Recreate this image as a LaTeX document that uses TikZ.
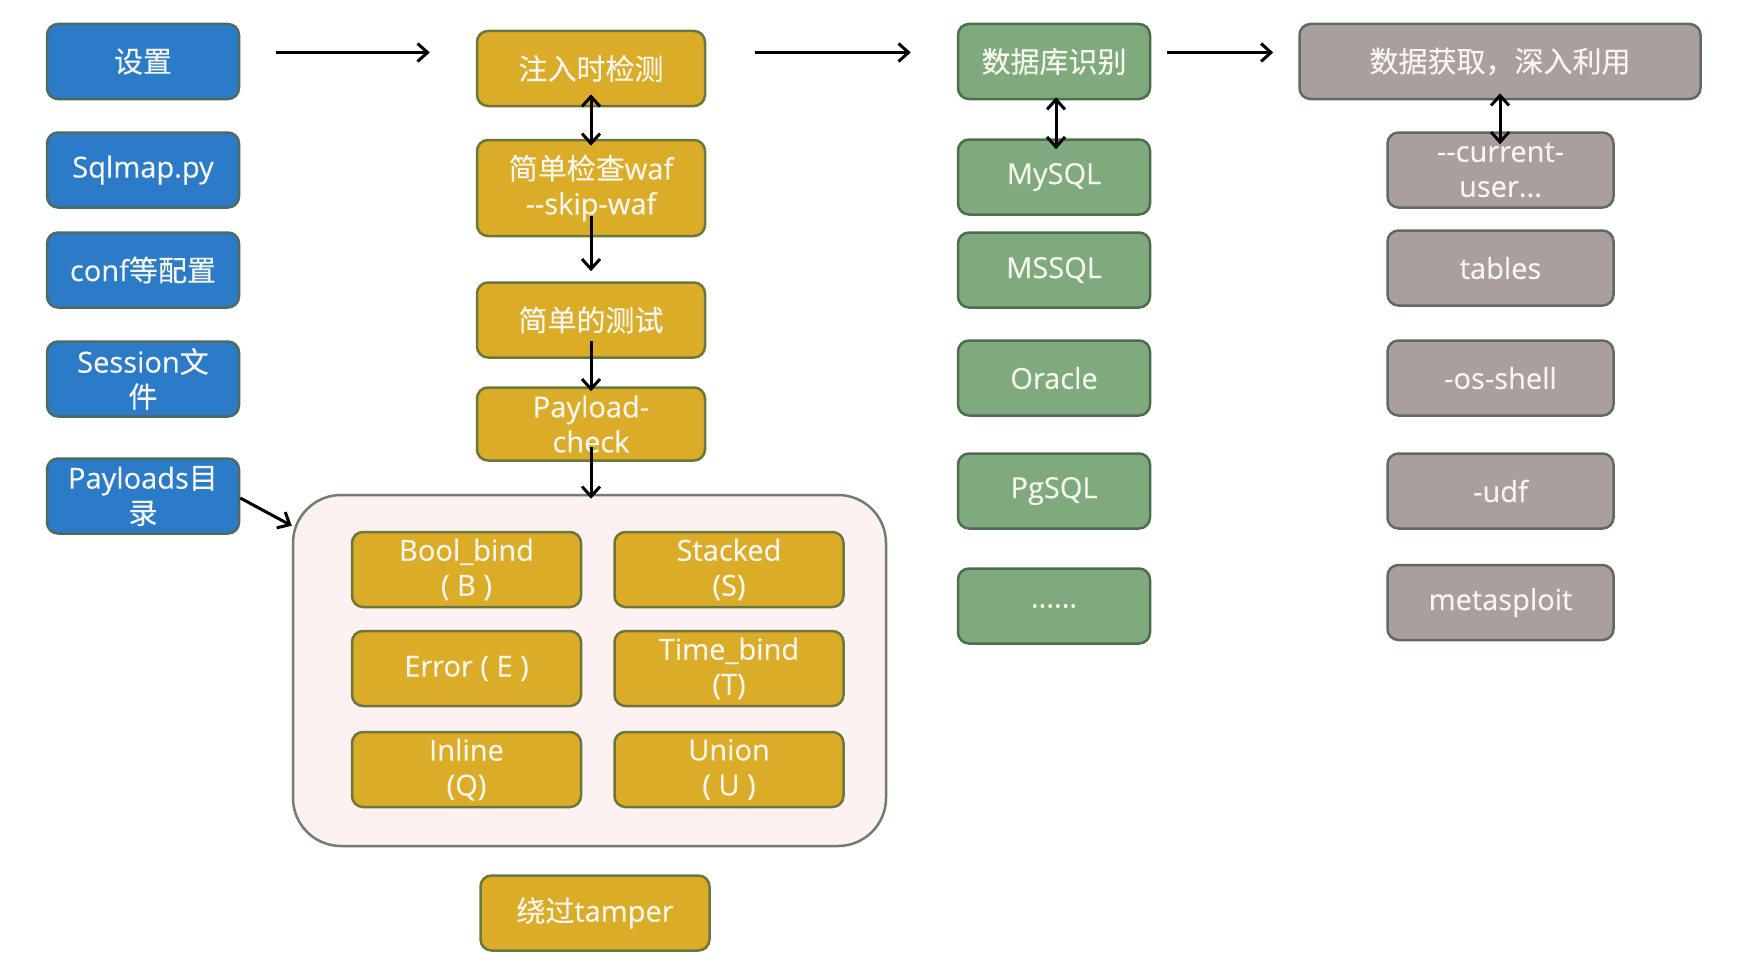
\documentclass[tikz,border=0pt]{standalone}
\usepackage{fontspec}
\setmainfont{Open Sans}[FakeBold=0.35]
\newfontfamily\cjk{Noto Sans CJK SC}[FakeBold=0.3]
\usetikzlibrary{arrows.meta,calc}
\definecolor{txt}{HTML}{F6F6EE}
\definecolor{bfill}{HTML}{2B7BC8}
\definecolor{bdraw}{HTML}{4D6A63}
\definecolor{gfill}{HTML}{DAAC27}
\definecolor{gdraw}{HTML}{6C773C}
\definecolor{nfill}{HTML}{7EAA7E}
\definecolor{ndraw}{HTML}{4F6C4F}
\definecolor{rfill}{HTML}{AB9E9F}
\definecolor{rdraw}{HTML}{5E6C5E}
\definecolor{cfill}{HTML}{FDF1F1}
\definecolor{cdraw}{HTML}{6F7F6C}
\tikzset{
  box/.style={draw, line width=2.5pt, rounded corners=11pt, text=txt, align=center,
    font=\fontsize{29}{35}\selectfont, inner sep=0pt},
  bluebox/.style={box, fill=bfill, draw=bdraw, minimum width=192pt, minimum height=75pt},
  goldbox/.style={box, fill=gfill, draw=gdraw, minimum width=228pt, minimum height=75pt},
  smallgold/.style={box, fill=gfill, draw=gdraw, minimum width=229pt, minimum height=75pt},
  greenbox/.style={box, fill=nfill, draw=ndraw, minimum width=192pt, minimum height=75pt},
  graybox/.style={box, fill=rfill, draw=rdraw, minimum width=226pt, minimum height=75pt},
  container/.style={draw=cdraw, fill=cfill, line width=2.5pt, rounded corners=48pt,
    minimum width=593pt, minimum height=351pt, inner sep=0pt},
  arr/.style={line width=3pt, -{Straight Barb[length=10pt,width=18pt]}},
  biarr/.style={line width=3pt, {Straight Barb[length=10pt,width=18pt]}-{Straight Barb[length=10pt,width=18pt]}}
}
\begin{document}
\begin{tikzpicture}[x=1pt,y=-1pt]
\useasboundingbox[fill=white] (0,0) rectangle (1752,974);

% left column
\node[bluebox] (set) at (143,61.5) {\cjk 设置};
\node[bluebox] (sqlmap) at (143,170) {Sqlmap.py};
\node[bluebox] (conf) at (143,270) {conf{\cjk 等配置}};
\node[bluebox] (sess) at (143,379) {Session{\cjk 文}\\{\cjk 件}};
\node[bluebox] (pay) at (143,496) {Payloads{\cjk 目}\\{\cjk 录}};

% container
\node[container] (cont) at (589.5,670.5) {};

% gold column
\node[goldbox] (inj) at (591,68.5) {\cjk 注入时检测};
\node[goldbox, minimum height=96pt] (waf) at (591,188) {{\cjk 简单检查}waf\\-{}-skip-waf};
\node[goldbox] (test) at (591,320) {\cjk 简单的测试};
\node[goldbox, minimum height=73pt] (pchk) at (591,424) {Payload-\\check};

\node[smallgold] (bool) at (466.5,569.5) {Bool\_bind\\( B )};
\node[smallgold] (stack) at (729,569.5) {Stacked\\(S)};
\node[smallgold] (err) at (466.5,668.5) {Error ( E )};
\node[smallgold] (time) at (729,668.5) {Time\_bind\\(T)};
\node[smallgold] (inl) at (466.5,769.5) {Inline\\(Q)};
\node[smallgold] (uni) at (729,769.5) {Union\\( U )};
\node[smallgold] (tamp) at (595,913) {{\cjk 绕过}tamper};

% green column
\node[greenbox] (db) at (1054,61.5) {\cjk 数据库识别};
\node[greenbox] (mysql) at (1054,177) {MySQL};
\node[greenbox] (mssql) at (1054,270) {MSSQL};
\node[greenbox] (orcl) at (1054,378) {Oracle};
\node[greenbox] (pg) at (1054,491) {PgSQL};
\node[greenbox] (dots) at (1054,606) {......};

% gray column
\node[graybox, minimum width=401pt] (get) at (1500,61.5) {\cjk 数据获取，深入利用};
\node[graybox] (cur) at (1500.5,170) {-{}-current-\\user...};
\node[graybox] (tab) at (1500.5,268) {tables};
\node[graybox] (osh) at (1500.5,378) {-os-shell};
\node[graybox] (udf) at (1500.5,491) {-udf};
\node[graybox] (msf) at (1500.5,602.5) {metasploit};

% connectors
\draw[arr, shorten <=36pt, shorten >=46pt] ([yshift=9pt]set.east) -- ([yshift=9pt]inj.west |- set.east);
\draw[arr, shorten <=49pt, shorten >=46pt] ([yshift=9pt]inj.east |- db.east) -- ([yshift=9pt]db.west);
\draw[arr, shorten <=16pt, shorten >=25pt] ([yshift=9pt]db.east) -- ([yshift=9pt]get.west);
\draw[arr] ([yshift=-2pt]pay.east) -- ($(cont.north west)+(0,32)$);

\draw[biarr, shorten <=-13pt, shorten >=-7pt] (inj.south) -- (waf.north);
\draw[arr, shorten <=-21pt, shorten >=10pt] (waf.south) -- (test.north);
\draw[arr, shorten <=-18pt, shorten >=-5pt] (test.south) -- (pchk.north);
\draw[arr, shorten <=-15pt, shorten >=-5pt] (pchk.south) -- (pchk.south |- cont.north);

\draw[biarr, shorten <=-3pt, shorten >=-11pt] ([xshift=2pt]db.south) -- ([xshift=2pt]mysql.north);
\draw[biarr, shorten <=-7pt, shorten >=-13pt] (get.south) -- (get.south |- cur.north);
\end{tikzpicture}
\end{document}
